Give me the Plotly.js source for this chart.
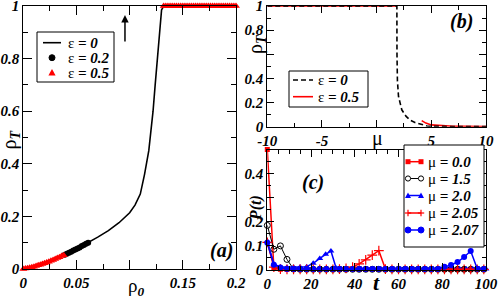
<!DOCTYPE html>
<html><head><meta charset="utf-8">
<script src="https://cdn.plot.ly/plotly-3.0.1.min.js"></script>
<style>html,body{margin:0;padding:0;background:#fff}#g{width:498px;height:299px}</style>
</head><body><div id="g"></div>
<script>
// ---------- Panel (a): rho_T vs rho_0 ----------
const rho0_eps0 = [0,0.01,0.02,0.03,0.04,0.05,0.06,0.07,0.08,0.09,0.10,0.105,0.11,0.114,0.118,0.12,0.122,0.124,0.126,0.128,0.13,0.132,0.14,0.16,0.18,0.2];
const rhoT_eps0 = [0,0.009,0.022,0.038,0.056,0.076,0.098,0.121,0.146,0.176,0.214,0.243,0.285,0.36,0.45,0.52,0.6,0.7,0.8,0.92,0.985,1,1,1,1,1];
const rho0_eps02 = [0.039,0.041,0.043,0.045,0.047,0.049,0.051,0.053,0.055,0.057,0.059,0.061];
const rhoT_eps02 = [0.054,0.058,0.062,0.066,0.07,0.074,0.078,0.082,0.087,0.091,0.096,0.1];
const rho0_eps05 = [0,0.002,0.004,0.006,0.008,0.01,0.012,0.014,0.016,0.018,0.02,0.022,0.024,0.026,0.028,0.03,0.032,0.034,0.036,0.038,
  0.132,0.134,0.136,0.138,0.14,0.142,0.144,0.146,0.148,0.15,0.152,0.154,0.156,0.158,0.16,0.162,0.164,0.166,0.168,0.17,0.172,0.174,0.176,0.178,0.18,0.182,0.184,0.186,0.188,0.19,0.192,0.194,0.196,0.198,0.2];
const rhoT_eps05 = [0,0.0015,0.003,0.005,0.007,0.009,0.0115,0.014,0.0165,0.019,0.022,0.025,0.028,0.031,0.0345,0.038,0.0415,0.045,0.049,0.0525,
  1,1,1,1,1,1,1,1,1,1,1,1,1,1,1,1,1,1,1,1,1,1,1,1,1,1,1,1,1,1,1,1,1,1,1];
const aTicks = [0,0.05,0.1,0.15,0.2];
const aTickText = ['0','0.05','','0.15','0.2'];
const aYTicks = [0,0.2,0.4,0.6,0.8,1];
const aYTickText = ['0','0.2','0.4','0.6','0.8','1'];

// ---------- Panel (b): rho_T vs mu ----------
const mu_eps0 = [-10,-5,0,1.85,1.86,1.9,2.0,2.3,2.7,3.06,3.5,4.0,4.6,5,6,8,10];
const rhoTb_eps0 = [1,1,1,1,0.6,0.38,0.25,0.14,0.085,0.055,0.035,0.022,0.006,0.003,0.0015,0.001,0.0005];
const mu_eps05 = [-10,-5,0,1.85,null,4.12,4.5,5,6,7,8,10];
const rhoTb_eps05 = [1,1,1,1,null,0.05,0.03,0.015,0.007,0.004,0.003,0.002];
const bTicks = [-10,-5,0,5,10];
const bTickText = ['-10','-5','','5','10'];
const bYTicks = [0,0.2,0.4,0.6,0.8,1];
const bYTickText = ['0','0.2','0.4','','0.8','1'];

// ---------- Panel (c): P(t) vs t ----------
const t_grid = [0,3,6,9,12,15,18,21,24,27,30,33,36,39,42,45,48,51,54,57,60,63,66,69,72,75,78,81,84,87,90,93,96,99];
const P_mu00 = [0.5,0.01,0.003,0.002,0.002,0.002,0.002,0.002,0.002,0.002,0.002,0.002,0.002,0.002,0.002,0.002,0.002,0.002,0.002,0.002,0.002,0.002,0.002,0.002,0.002,0.002,0.002,0.002,0.002,0.002,0.002,0.002,0.002,0.002];
const P_mu15 = [0.185,0.086,0.1,0.044,0.004,0.003,0.003,0.003,0.003,0.003,0.003,0.003,0.003,0.003,0.003,0.003,0.003,0.003,0.003,0.003,0.003,0.003,0.003,0.003,0.003,0.003,0.003,0.003,0.003,0.003,0.003,0.003,0.003,0.003];
const t_mu20 = [0,3,6,9,12,15,18,21,24,26.7,29.1,31.5,34,37,40,43,46,49,52,55,58,61,64,67,70,73,76,79,82,85,88,91,94,97,100];
const P_mu20 = [0.12,0.025,0.012,0.011,0.011,0.012,0.014,0.028,0.048,0.065,0.079,0.007,0.004,0.004,0.004,0.004,0.004,0.004,0.004,0.004,0.004,0.004,0.004,0.004,0.004,0.004,0.004,0.004,0.004,0.004,0.004,0.004,0.004,0.004,0.004];
const P_mu205 = [0.115,0.012,0.004,0.003,0.003,0.003,0.003,0.003,0.003,0.003,0.003,0.004,0.007,0.012,0.025,0.042,0.062,0.08,0.004,0.003,0.003,0.003,0.003,0.003,0.003,0.003,0.003,0.003,0.003,0.003,0.003,0.003,0.003,0.003];
const P_mu207 = [0.113,0.022,0.01,0.004,0.004,0.004,0.004,0.004,0.004,0.004,0.004,0.004,0.004,0.004,0.004,0.004,0.004,0.004,0.004,0.004,0.004,0.004,0.004,0.004,0.004,0.004,0.004,0.013,0.021,0.033,0.054,0.079,0.005,0.004];
const cTicks = [0,20,40,60,80,100];
const cTickText = ['0','20','40','60','80','100'];
const cYTicks = [0,0.1,0.2,0.3,0.4,0.5];
const cYTickText = ['0','0.1','0.2','','0.4',''];

// ---------- helpers ----------
const W = 498, H = 299;
const P = x => x / W;
const Q = y => 1 - y / H;
const FAM = 'Liberation Serif, Times New Roman, serif';
const TF = {family: FAM, size: 15, color: '#000', weight: 'bold', style: 'italic'};

function axis(o) {
  return Object.assign({
    ticks: 'inside', tickwidth: 1, tickcolor: '#000',
    showline: true, linecolor: '#000', linewidth: 1, mirror: 'ticks',
    showgrid: false, zeroline: false, tickfont: TF, tickmode: 'array',
    ticklabeloverflow: 'allow', fixedrange: true
  }, o);
}

const RED = '#ff0000', BLUE = '#0000ff';

const traces = [
  // (a)
  {x: rho0_eps0, y: rhoT_eps0, xaxis: 'x', yaxis: 'y', mode: 'lines', line: {color: '#000', width: 1.6}, cliponaxis: false, showlegend: false},
  {x: rho0_eps02, y: rhoT_eps02, xaxis: 'x', yaxis: 'y', mode: 'markers', marker: {color: '#000', size: 6, symbol: 'circle'}, cliponaxis: false, showlegend: false},
  {x: rho0_eps05, y: rhoT_eps05, xaxis: 'x', yaxis: 'y', mode: 'markers', marker: {color: RED, size: 7, symbol: 'triangle-up'}, cliponaxis: false, showlegend: false},
  // (b)
  {x: mu_eps05, y: rhoTb_eps05, xaxis: 'x2', yaxis: 'y2', mode: 'lines', line: {color: RED, width: 1.6}, connectgaps: false, cliponaxis: false, showlegend: false},
  {x: mu_eps0, y: rhoTb_eps0, xaxis: 'x2', yaxis: 'y2', mode: 'lines', line: {color: '#000', width: 1.6, dash: '5px,3px'}, cliponaxis: false, showlegend: false},
  // (c)
  {x: t_grid, y: P_mu00, xaxis: 'x3', yaxis: 'y3', mode: 'lines+markers', line: {color: RED, width: 1.5}, marker: {color: RED, size: 5, symbol: 'square'}, cliponaxis: false, showlegend: false},
  {x: t_grid, y: P_mu15, xaxis: 'x3', yaxis: 'y3', mode: 'lines+markers', line: {color: '#000', width: 1}, marker: {color: '#000', size: 6, symbol: 'circle-open', line: {width: 1, color: '#000'}}, cliponaxis: false, showlegend: false},
  {x: t_mu20, y: P_mu20, xaxis: 'x3', yaxis: 'y3', mode: 'lines+markers', line: {color: BLUE, width: 1.5}, marker: {color: BLUE, size: 6, symbol: 'triangle-up'}, cliponaxis: false, showlegend: false},
  {x: t_grid, y: P_mu205, xaxis: 'x3', yaxis: 'y3', mode: 'lines+markers', line: {color: RED, width: 1.5}, marker: {color: RED, size: 7, symbol: 'cross-thin', line: {width: 1.2, color: RED}}, cliponaxis: false, showlegend: false},
  {x: t_grid, y: P_mu207, xaxis: 'x3', yaxis: 'y3', mode: 'lines+markers', line: {color: BLUE, width: 1.5}, marker: {color: BLUE, size: 6, symbol: 'circle'}, cliponaxis: false, showlegend: false}
];

// ---------- manual legends ----------
const shapes = [];
const ann = [];
function box(x0, y0, x1, y1) {
  shapes.push({type: 'rect', xref: 'paper', yref: 'paper', x0: P(x0), x1: P(x1), y0: Q(y1), y1: Q(y0), line: {color: '#000', width: 1}, fillcolor: '#fff', layer: 'above'});
}
function seg(x0, y0, x1, y1, color, width, dash) {
  shapes.push({type: 'line', xref: 'paper', yref: 'paper', x0: P(x0), x1: P(x1), y0: Q(y0), y1: Q(y1), line: {color: color, width: width, dash: dash || 'solid'}, layer: 'above'});
}
function dot(cx, cy, r, color, open) {
  shapes.push({type: 'circle', xref: 'paper', yref: 'paper', x0: P(cx - r), x1: P(cx + r), y0: Q(cy + r), y1: Q(cy - r), line: {color: color, width: 1}, fillcolor: open ? '#fff' : color, layer: 'above'});
}
function sq(cx, cy, r, color) {
  shapes.push({type: 'rect', xref: 'paper', yref: 'paper', x0: P(cx - r), x1: P(cx + r), y0: Q(cy + r), y1: Q(cy - r), line: {color: color, width: 0}, fillcolor: color, layer: 'above'});
}
function tri(cx, cy, r, color) {
  const p = `M ${P(cx - r)} ${Q(cy + r * 0.8)} L ${P(cx + r)} ${Q(cy + r * 0.8)} L ${P(cx)} ${Q(cy - r)} Z`;
  shapes.push({type: 'path', xref: 'paper', yref: 'paper', path: p, line: {color: color, width: 0}, fillcolor: color, layer: 'above'});
}
function plus(cx, cy, r, color) {
  seg(cx - r, cy, cx + r, cy, color, 1.2);
  seg(cx, cy - r, cx, cy + r, color, 1.2);
}
function txt(x, y, s, size, opts) {
  ann.push(Object.assign({xref: 'paper', yref: 'paper', x: P(x), y: Q(y), text: s, showarrow: false,
    font: {family: FAM, size: size, color: '#000'}, xanchor: 'center', yanchor: 'middle'}, opts || {}));
}

// legend (a)
box(37, 32, 114, 82);
seg(43, 42.7, 61, 42.7, '#000', 1.6);
dot(52, 57.7, 3, '#000');
tri(52, 72.7, 3.6, RED);
txt(66, 42.7, 'ε <b><i>= 0</i></b>', 15, {xanchor: 'left'});
txt(66, 57.7, 'ε <b><i>= 0.2</i></b>', 15, {xanchor: 'left'});
txt(66, 72.7, 'ε <b><i>= 0.5</i></b>', 15, {xanchor: 'left'});

// legend (b)
box(289, 71, 368, 107);
seg(293, 80, 313, 80, '#000', 1.6, '5px,3px');
seg(293, 96.7, 313, 96.7, RED, 1.6);
txt(316, 80, 'ε <b><i>= 0</i></b>', 15, {xanchor: 'left'});
txt(316, 96.7, 'ε <b><i>= 0.5</i></b>', 15, {xanchor: 'left'});

// legend (c)
box(404, 145, 484, 247);
const ly = [161.7, 178.5, 195.5, 213, 230];
seg(408, ly[0], 421, ly[0], RED, 1.5); sq(408, ly[0], 2.5, RED); sq(421, ly[0], 2.5, RED);
seg(408, ly[1], 421, ly[1], '#000', 1); dot(408, ly[1], 2.6, '#000', true); dot(421, ly[1], 2.6, '#000', true);
seg(408, ly[2], 421, ly[2], BLUE, 1.5); tri(408, ly[2], 3, BLUE); tri(421, ly[2], 3, BLUE);
seg(408, ly[3], 421, ly[3], RED, 1.5); plus(408, ly[3], 3.2, RED); plus(421, ly[3], 3.2, RED);
seg(408, ly[4], 421, ly[4], BLUE, 1.5); dot(408, ly[4], 3, BLUE); dot(421, ly[4], 3, BLUE);
const cLeg = ['0.0', '1.5', '2.0', '2.05', '2.07'];
cLeg.forEach((s, i) => txt(426, ly[i], 'μ <b><i>= ' + s + '</i></b>', 15, {xanchor: 'left'}));

// axis titles & panel labels
txt(9.5, 140, 'ρ<sub><b><i>T</i></b></sub>', 20, {textangle: -90});
txt(136, 287, 'ρ<sub><b><i>0</i></b></sub>', 19);
txt(256, 44, 'ρ<sub><b><i>T</i></b></sub>', 20, {textangle: -90});
txt(377, 138, 'μ', 20);
txt(256, 208, '<b><i>P(t)</i></b>', 16, {textangle: -90});
txt(376, 282, '<b><i>t</i></b>', 22);
txt(221.5, 250, '<b><i>(a)</i></b>', 20);
txt(461.5, 22, '<b><i>(b)</i></b>', 20);
txt(312.5, 182, '<b><i>(c)</i></b>', 20);

// arrow in (a)
ann.push({xref: 'x', yref: 'y', x: 0.0956, y: 0.966, ax: 0, ay: 28, text: '', showarrow: true,
  arrowhead: 2, arrowsize: 1, arrowwidth: 1.5, arrowcolor: '#000'});

const layout = {
  width: W, height: H, autosize: false,
  margin: {l: 0, r: 0, t: 0, b: 0, pad: 0},
  paper_bgcolor: '#fff', plot_bgcolor: 'rgba(0,0,0,0)',
  showlegend: false,
  xaxis: axis({domain: [P(23.3), P(236)], range: [0, 0.2], anchor: 'y', tickvals: aTicks, ticktext: aTickText, ticklen: 9,
    minor: {dtick: 0.025, tick0: 0, ticks: 'inside', ticklen: 5, tickcolor: '#000', tickwidth: 1}}),
  yaxis: axis({domain: [Q(269), Q(6)], range: [0, 1], anchor: 'x', tickvals: aYTicks, ticktext: aYTickText, ticklen: 9,
    minor: {dtick: 0.1, tick0: 0, ticks: 'inside', ticklen: 5, tickcolor: '#000', tickwidth: 1}}),
  xaxis2: axis({domain: [P(267.3), P(486)], range: [-10, 10], anchor: 'y2', tickvals: bTicks, ticktext: bTickText, ticklen: 7,
    minor: {dtick: 2.5, tick0: -10, ticks: 'inside', ticklen: 4, tickcolor: '#000', tickwidth: 1}}),
  yaxis2: axis({domain: [Q(126.7), Q(6)], range: [0, 1], anchor: 'x2', tickvals: bYTicks, ticktext: bYTickText, ticklen: 7,
    minor: {dtick: 0.1, tick0: 0, ticks: 'inside', ticklen: 4, tickcolor: '#000', tickwidth: 1}}),
  xaxis3: axis({domain: [P(267.3), P(486)], range: [0, 100], anchor: 'y3', tickvals: cTicks, ticktext: cTickText, ticklen: 7,
    minor: {dtick: 5, tick0: 0, ticks: 'inside', ticklen: 4, tickcolor: '#000', tickwidth: 1}}),
  yaxis3: axis({domain: [Q(270), Q(149.5)], range: [0, 0.5], anchor: 'x3', tickvals: cYTicks, ticktext: cYTickText, ticklen: 7,
    minor: {dtick: 0.05, tick0: 0, ticks: 'inside', ticklen: 4, tickcolor: '#000', tickwidth: 1}}),
  shapes: shapes,
  annotations: ann
};

Plotly.newPlot('g', traces, layout, {staticPlot: true, displayModeBar: false});
</script>
</body></html>
